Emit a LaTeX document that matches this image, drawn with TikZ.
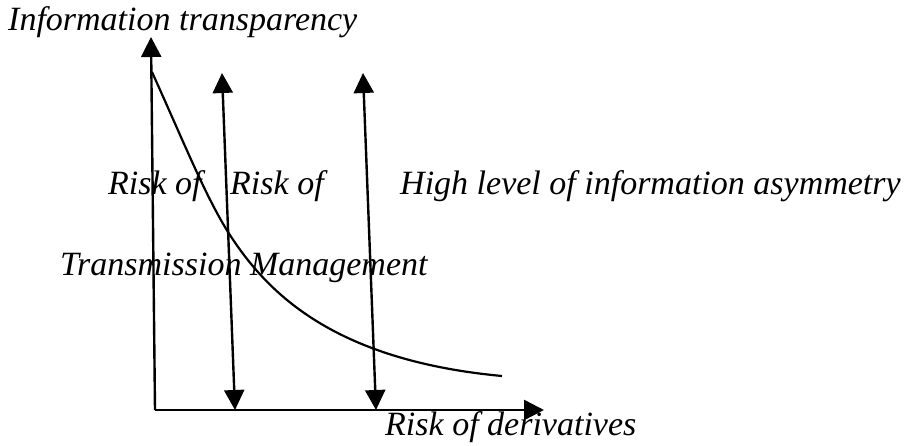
\documentclass[tikz,border=0pt]{standalone}
\usepackage{fontspec}
\setmainfont{Liberation Serif}
\usetikzlibrary{arrows.meta}
\begin{document}
\begin{tikzpicture}[x=1pt,y=-1pt,
  lbl/.style={anchor=base west,inner sep=0pt,font=\fontsize{34}{38}\selectfont\itshape},
  ln/.style={line width=2.4pt,black},
  tip/.style={-{Triangle[width=20pt,length=20pt]}},
  dtip/.style={{Triangle[width=20pt,length=20pt]}-{Triangle[width=20pt,length=20pt]}}]
\useasboundingbox (0,0) rectangle (916,446);
\coordinate (O) at (155,410);
\coordinate (Ytip) at (151,37);
\coordinate (Xtip) at (544,410);
\coordinate (a1t) at (222,73);
\coordinate (a1b) at (235,410);
\coordinate (a2t) at (363,73);
\coordinate (a2b) at (376,410);
\coordinate (c0) at (152,72);
\coordinate (c1) at (228,232);
\coordinate (c2) at (502,376);
\draw[ln,tip] (O) -- (Ytip);
\draw[ln,tip] (O) -- (Xtip);
\draw[ln,dtip] (a1t) -- (a1b);
\draw[ln,dtip] (a2t) -- (a2b);
\draw[ln,line width=2.2pt] (c0) .. controls (185,145) and (205,195) .. (c1)
  .. controls (265,290) and (330,360) .. (c2);
\node[lbl] (it) at (8,31) {Information transparency};
\node[lbl] (r1) at (108,195) {Risk of};
\node[lbl] (r2) at (230,195) {Risk of};
\node[lbl] (hi) at (400,195) {High level of information asymmetry};
\node[lbl] (tm) at (60,276) {Transmission Management};
\node[lbl] (rd) at (385,435) {Risk of derivatives};
\end{tikzpicture}
\end{document}
